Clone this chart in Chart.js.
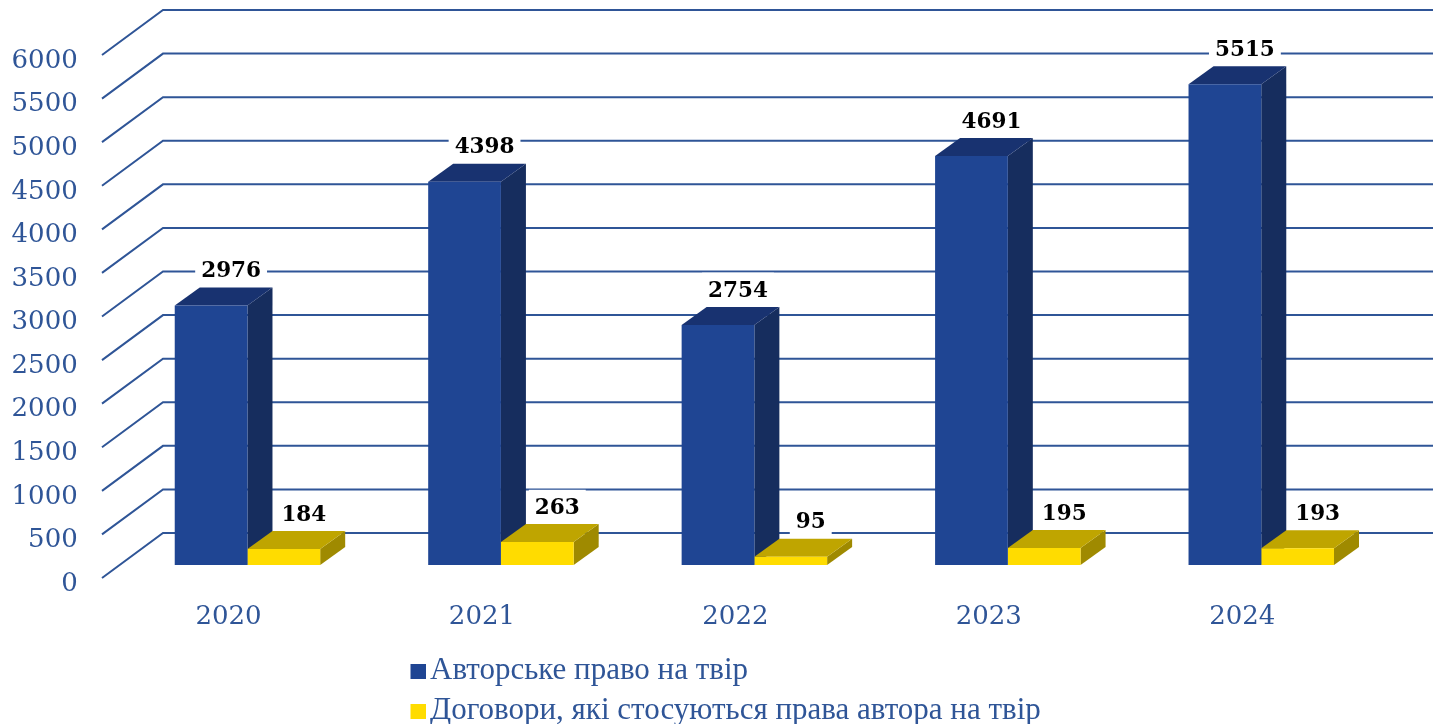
<!DOCTYPE html>
<html lang="uk">
<head>
<meta charset="utf-8">
<style>html,body{margin:0;padding:0;background:#fff}canvas{display:block}</style>
<script src="https://cdn.jsdelivr.net/npm/chart.js@4"></script>
</head>
<body>
<canvas id="c" width="1440" height="724"></canvas>
<script>
const categories = ['2020', '2021', '2022', '2023', '2024'];
const copyrightWorks = [2976, 4398, 2754, 4691, 5515];
const contracts = [184, 263, 95, 195, 193];
const seriesNames = ['Авторське право на твір', 'Договори, які стосуються права автора на твір'];

const BLUE = '#1F4593', BLUE_TOP = '#183270', BLUE_SIDE = '#162D5E';
const YEL = '#FFDC00', YEL_TOP = '#BFA500', YEL_SIDE = '#9F8A00';
const TEXT = '#2F5597', GRID = '#2F5597';
const DX = 25, DY = 18;
const serif = '"Liberation Serif", serif', digits = '"DejaVu Serif", serif';

function swatch(color) {
  const s = document.createElement('canvas');
  s.width = 23; s.height = 15;
  const g = s.getContext('2d');
  g.fillStyle = color; g.fillRect(8, 0, 15, 15);
  return s;
}
const swatches = [swatch(BLUE), swatch(YEL)];

const depth3d = {
  id: 'depth3d',
  afterLayout(chart) {
    const l = chart.legend;
    l.left = 404.5; l.right = 1204; l.top = 646.5;
    l.adjustHitBoxes && l.adjustHitBoxes();
  },
  beforeDatasetsDraw(chart) {
    const {ctx, scales: {y}} = chart;
    ctx.save();
    ctx.strokeStyle = GRID; ctx.lineWidth = 2;
    y.ticks.forEach(t => {
      const p = y.getPixelForValue(t.value);
      ctx.beginPath();
      ctx.moveTo(102, p + 13);
      ctx.lineTo(163, p - 32);
      ctx.lineTo(1433, p - 32);
      ctx.stroke();
    });
    const faces = [[BLUE_TOP, BLUE_SIDE], [YEL_TOP, YEL_SIDE]];
    chart.data.datasets.forEach((ds, i) => {
      chart.getDatasetMeta(i).data.forEach(b => {
        const L = b.x - b.width / 2, R = b.x + b.width / 2;
        ctx.fillStyle = faces[i][1];
        ctx.beginPath();
        ctx.moveTo(R, b.y); ctx.lineTo(R + DX, b.y - DY);
        ctx.lineTo(R + DX, b.base - DY); ctx.lineTo(R, b.base);
        ctx.closePath(); ctx.fill();
        ctx.fillStyle = faces[i][0];
        ctx.beginPath();
        ctx.moveTo(L, b.y); ctx.lineTo(L + DX, b.y - DY);
        ctx.lineTo(R + DX, b.y - DY); ctx.lineTo(R, b.y);
        ctx.closePath(); ctx.fill();
      });
    });
    ctx.restore();
  },
  afterDatasetsDraw(chart) {
    const {ctx} = chart;
    ctx.save();
    ctx.font = 'bold 21.5px ' + digits;
    ctx.textAlign = 'center'; ctx.textBaseline = 'middle';
    chart.data.datasets.forEach((ds, i) => {
      chart.getDatasetMeta(i).data.forEach((b, j) => {
        const s = String(ds.data[j]);
        const x = b.x + 20, y = b.y - 34;
        const w = ctx.measureText(s).width + 12;
        ctx.fillStyle = '#fff';
        ctx.fillRect(x - w / 2, y - 18.3, w, 33.3);
        ctx.fillStyle = '#000';
        ctx.fillText(s, x, y);
      });
    });
    ctx.restore();
  }
};

new Chart(document.getElementById('c'), {
  type: 'bar',
  data: {
    labels: categories,
    datasets: [
      {label: seriesNames[0], data: copyrightWorks, backgroundColor: BLUE, borderWidth: 0},
      {label: seriesNames[1], data: contracts, backgroundColor: YEL, borderWidth: 0}
    ]
  },
  plugins: [depth3d],
  options: {
    responsive: false,
    animation: false,
    layout: {padding: {top: 42, right: 52, bottom: 0, left: 0}},
    datasets: {bar: {barPercentage: 1, categoryPercentage: 0.574}},
    scales: {
      y: {
        min: 0, max: 6000,
        border: {display: false},
        grid: {display: false, drawTicks: false},
        afterFit(s) { s.width = 120.75; s.paddingTop = 0; s.paddingBottom = 0; },
        ticks: {
          stepSize: 500, color: TEXT, padding: 43, labelOffset: 19,
          font: {family: digits, size: 26},
          callback: v => String(v)
        }
      },
      x: {
        border: {display: false},
        grid: {display: false, drawTicks: false},
        afterFit(s) { s.height = 159 - s.chart.legend.height; },
        ticks: {
          color: TEXT, padding: 37, labelOffset: -19, maxRotation: 0, autoSkip: false,
          font: {family: digits, size: 26}
        }
      }
    },
    plugins: {
      title: {display: false},
      tooltip: {enabled: false},
      legend: {
        position: 'bottom', align: 'start', maxWidth: 800,
        labels: {
          color: TEXT, padding: 9, usePointStyle: true, pointStyleWidth: 1,
          font: {family: serif, size: 31},
          generateLabels(chart) {
            return Chart.defaults.plugins.legend.labels.generateLabels(chart)
              .map((it, i) => Object.assign(it, {pointStyle: swatches[i]}));
          }
        }
      }
    }
  }
});
</script>
</body>
</html>
